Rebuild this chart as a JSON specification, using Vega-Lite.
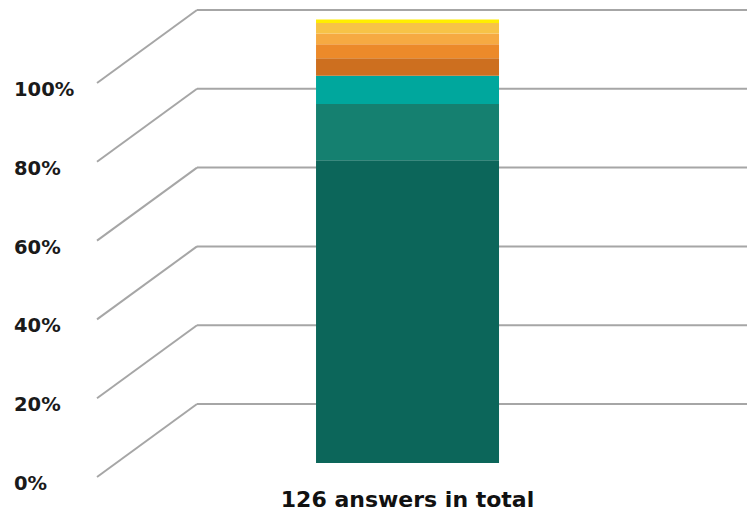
{
  "$schema": "https://vega.github.io/schema/vega-lite/v6.json",
  "width": 650,
  "height": 467,
  "autosize": {"type": "none"},
  "padding": {"left": 97, "top": 10, "right": 0, "bottom": 38},
  "background": "white",
  "config": {"view": {"stroke": null}},
  "layer": [
    {
      "data": {
        "values": [
          {"pct": 0, "label": "0%"},
          {"pct": 20, "label": "20%"},
          {"pct": 40, "label": "40%"},
          {"pct": 60, "label": "60%"},
          {"pct": 80, "label": "80%"},
          {"pct": 100, "label": "100%"}
        ]
      },
      "layer": [
        {
          "mark": {"type": "rule", "color": "#A6A6A6", "strokeWidth": 2},
          "encoding": {
            "y": {"field": "pct", "type": "quantitative", "scale": {"domain": [0, 100], "range": [394, 0], "nice": false}, "axis": null},
            "x": {"datum": 1, "type": "quantitative", "scale": {"domain": [0, 1], "range": [0, 100], "nice": false}, "axis": null},
            "x2": {"value": "width"}
          }
        },
        {
          "mark": {"type": "rule", "color": "#A6A6A6", "strokeWidth": 2, "y2Offset": 73},
          "encoding": {
            "y": {"field": "pct", "type": "quantitative"},
            "y2": {"field": "pct"},
            "x": {"datum": 1, "type": "quantitative"},
            "x2": {"datum": 0}
          }
        },
        {
          "mark": {"type": "text", "align": "left", "baseline": "middle", "dx": -83, "yOffset": 80, "font": "DejaVu Sans", "fontWeight": "bold", "fontSize": 19.5, "color": "#1a1a1a"},
          "encoding": {
            "y": {"field": "pct", "type": "quantitative"},
            "x": {"datum": 0, "type": "quantitative"},
            "text": {"field": "label"}
          }
        }
      ]
    },
    {
      "data": {
        "values": [
          {"category": "126 answers in total", "answer": "Option 1", "rank": 1, "count": 86},
          {"category": "126 answers in total", "answer": "Option 2", "rank": 2, "count": 16},
          {"category": "126 answers in total", "answer": "Option 3", "rank": 3, "count": 8},
          {"category": "126 answers in total", "answer": "Option 4", "rank": 4, "count": 5},
          {"category": "126 answers in total", "answer": "Option 5", "rank": 5, "count": 4},
          {"category": "126 answers in total", "answer": "Option 6", "rank": 6, "count": 3},
          {"category": "126 answers in total", "answer": "Option 7", "rank": 7, "count": 3},
          {"category": "126 answers in total", "answer": "Option 8", "rank": 8, "count": 1}
        ]
      },
      "mark": {"type": "bar"},
      "encoding": {
        "x": {
          "field": "category", "type": "nominal",
          "scale": {"paddingInner": 0.2163, "paddingOuter": 1, "align": 0.469},
          "axis": {"orient": "bottom", "title": null, "domain": false, "ticks": false, "labelPadding": 12, "labelLimit": 0, "labelFont": "DejaVu Sans", "labelFontWeight": "bold", "labelFontSize": 22, "labelColor": "#111111", "labelAngle": 0}
        },
        "y": {"field": "count", "type": "quantitative", "stack": "zero", "scale": {"domain": [0, 126], "range": [453, 9.5], "nice": false, "zero": true}, "axis": null},
        "color": {
          "field": "answer", "type": "nominal",
          "scale": {
            "domain": ["Option 1", "Option 2", "Option 3", "Option 4", "Option 5", "Option 6", "Option 7", "Option 8"],
            "range": ["#0C665A", "#158070", "#00A79D", "#CD6F1F", "#EC8A2A", "#F6AA42", "#F7C347", "#FFEE00"]
          },
          "legend": null
        },
        "order": {"field": "rank", "type": "quantitative"}
      }
    }
  ],
  "resolve": {"scale": {"x": "independent", "y": "independent"}}
}
